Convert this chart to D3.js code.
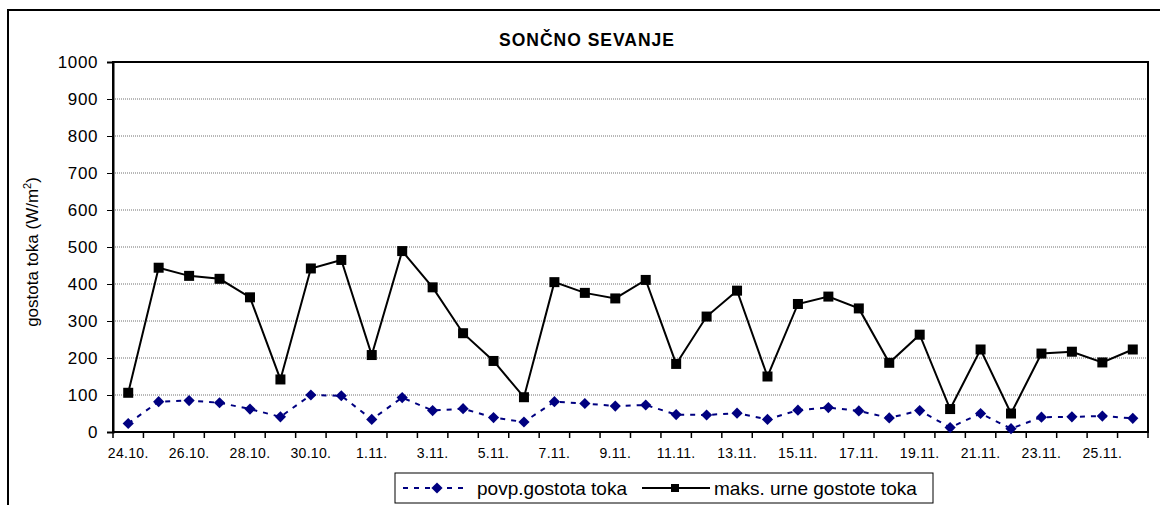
<!DOCTYPE html>
<html>
<head>
<meta charset="utf-8">
<script src="https://cdn.jsdelivr.net/npm/d3@7"></script>
<style>
  body { margin: 0; background: #fff; }
  text { font-family: "Liberation Sans", Arial, sans-serif; }
</style>
</head>
<body>
<div id="chart"></div>
<script>
var days = ["24.10.","25.10.","26.10.","27.10.","28.10.","29.10.","30.10.","31.10.",
  "1.11.","2.11.","3.11.","4.11.","5.11.","6.11.","7.11.","8.11.","9.11.","10.11.",
  "11.11.","12.11.","13.11.","14.11.","15.11.","16.11.","17.11.","18.11.","19.11.",
  "20.11.","21.11.","22.11.","23.11.","24.11.","25.11.","26.11."]

var avgFlux = [23, 82, 85, 79, 62, 41, 100, 98, 34, 93, 58, 63, 39, 27, 82, 77, 70, 73,
  47, 46, 51, 34, 59, 66, 57, 38, 58, 12, 50, 9, 40, 41, 43, 37]

var maxFlux = [106, 444, 422, 414, 364, 142, 442, 465, 208, 489, 391, 267, 192, 94, 405, 376, 361, 411,
  184, 312, 382, 150, 346, 366, 334, 187, 263, 62, 223, 50, 212, 217, 188, 223]

var yTicks = [0, 100, 200, 300, 400, 500, 600, 700, 800, 900, 1000]

var width = 1160, height = 505
var plot = { left: 113, top: 62, right: 1148, bottom: 432 }

var svg = d3.select("#chart").append("svg")
    .attr("width", width)
    .attr("height", height)

// outer chart frame (cropped at right / bottom)
svg.append("rect")
    .attr("x", 8).attr("y", 10)
    .attr("width", 1170).attr("height", 520)
    .attr("fill", "none").attr("stroke", "#000").attr("stroke-width", 2)

svg.append("text")
    .attr("x", 587).attr("y", 46)
    .attr("text-anchor", "middle")
    .style("font-size", "17.5px").style("font-weight", "bold")
    .style("letter-spacing", "1px")
    .text("SONČNO SEVANJE")

var x = d3.scaleBand()
    .domain(days)
    .range([plot.left, plot.right])

var y = d3.scaleLinear()
    .domain([0, 1000])
    .range([plot.bottom, plot.top])

// gridlines
svg.append("g").selectAll("line")
    .data(yTicks.filter(d => d > 0 && d < 1000))
    .enter().append("line")
    .attr("x1", plot.left).attr("x2", plot.right)
    .attr("y1", d => y(d)).attr("y2", d => y(d))
    .attr("stroke", "#707070").attr("stroke-width", 1)
    .attr("stroke-dasharray", "1,1")

// plot area frame
svg.append("rect")
    .attr("x", plot.left).attr("y", plot.top)
    .attr("width", plot.right - plot.left).attr("height", plot.bottom - plot.top)
    .attr("fill", "none").attr("stroke", "#000").attr("stroke-width", 2)

// y axis
var yAxis = svg.append("g")
    .attr("transform", `translate(${plot.left},0)`)
    .call(d3.axisLeft(y).tickValues(yTicks).tickSize(6).tickPadding(9).tickFormat(d3.format("d")))
yAxis.select(".domain").attr("stroke-width", 2)
yAxis.selectAll("text").style("font-size", "17px").attr("fill", "#000")
    .style("letter-spacing", "0.6px")
    .style("font-family", "Liberation Sans, Arial, sans-serif")

// x axis: ticks between categories, label every second day
var xAxisG = svg.append("g")
    .attr("transform", `translate(0,${plot.bottom})`)
xAxisG.append("line")
    .attr("x1", plot.left).attr("x2", plot.right)
    .attr("stroke", "#000").attr("stroke-width", 2)
xAxisG.selectAll(".tk")
    .data(days.concat(["end"]))
    .enter().append("line")
    .attr("x1", (d, i) => plot.left + i * x.step())
    .attr("x2", (d, i) => plot.left + i * x.step())
    .attr("y1", 0).attr("y2", 6)
    .attr("stroke", "#000").attr("stroke-width", 1.5)
xAxisG.selectAll(".lbl")
    .data(days.filter((d, i) => i % 2 === 0))
    .enter().append("text")
    .attr("x", d => x(d) + x.bandwidth() / 2)
    .attr("y", 26)
    .attr("text-anchor", "middle")
    .style("font-size", "14px")
    .style("letter-spacing", "0.3px")
    .text(d => d)

// y axis title
var yTitle = svg.append("text")
    .attr("transform", "translate(38,252) rotate(-90)")
    .attr("text-anchor", "middle")
    .style("font-size", "17px")
yTitle.append("tspan").text("gostota toka (W/m")
yTitle.append("tspan").attr("dy", -7).style("font-size", "11px").text("2")
yTitle.append("tspan").attr("dy", 7).text(")")

var cx = d => x(d) + x.bandwidth() / 2

// avg series
var lineAvg = d3.line().x((d, i) => cx(days[i])).y(d => y(d))
svg.append("path")
    .datum(avgFlux)
    .attr("d", lineAvg)
    .attr("fill", "none").attr("stroke", "#000080").attr("stroke-width", 2)
    .attr("stroke-dasharray", "5,6")

var diamond = d3.symbol().type(d3.symbolDiamond2).size(80)
svg.append("g").selectAll("path")
    .data(avgFlux)
    .enter().append("path")
    .attr("d", diamond)
    .attr("transform", (d, i) => `translate(${cx(days[i])},${y(d)})`)
    .attr("fill", "#000080")

// max series
var lineMax = d3.line().x((d, i) => cx(days[i])).y(d => y(d))
svg.append("path")
    .datum(maxFlux)
    .attr("d", lineMax)
    .attr("fill", "none").attr("stroke", "#000").attr("stroke-width", 2)

svg.append("g").selectAll("rect")
    .data(maxFlux)
    .enter().append("rect")
    .attr("x", (d, i) => cx(days[i]) - 5)
    .attr("y", d => y(d) - 5)
    .attr("width", 10).attr("height", 10)
    .attr("fill", "#000")

// legend
var leg = svg.append("g")
leg.append("rect")
    .attr("x", 395).attr("y", 473)
    .attr("width", 538).attr("height", 30)
    .attr("fill", "#fff").attr("stroke", "#000").attr("stroke-width", 1)
leg.append("line")
    .attr("x1", 403).attr("x2", 465).attr("y1", 488).attr("y2", 488)
    .attr("stroke", "#000080").attr("stroke-width", 2).attr("stroke-dasharray", "5,6")
leg.append("path")
    .attr("d", diamond)
    .attr("transform", "translate(437,488)")
    .attr("fill", "#000080")
leg.append("text")
    .attr("x", 477).attr("y", 495)
    .style("font-size", "19px")
    .text("povp.gostota toka")
leg.append("line")
    .attr("x1", 642).attr("x2", 710).attr("y1", 488).attr("y2", 488)
    .attr("stroke", "#000").attr("stroke-width", 2)
leg.append("rect")
    .attr("x", 671).attr("y", 484).attr("width", 8).attr("height", 8)
    .attr("fill", "#000")
leg.append("text")
    .attr("x", 714).attr("y", 495)
    .style("font-size", "19px")
    .text("maks. urne gostote toka")
</script>
</body>
</html>
